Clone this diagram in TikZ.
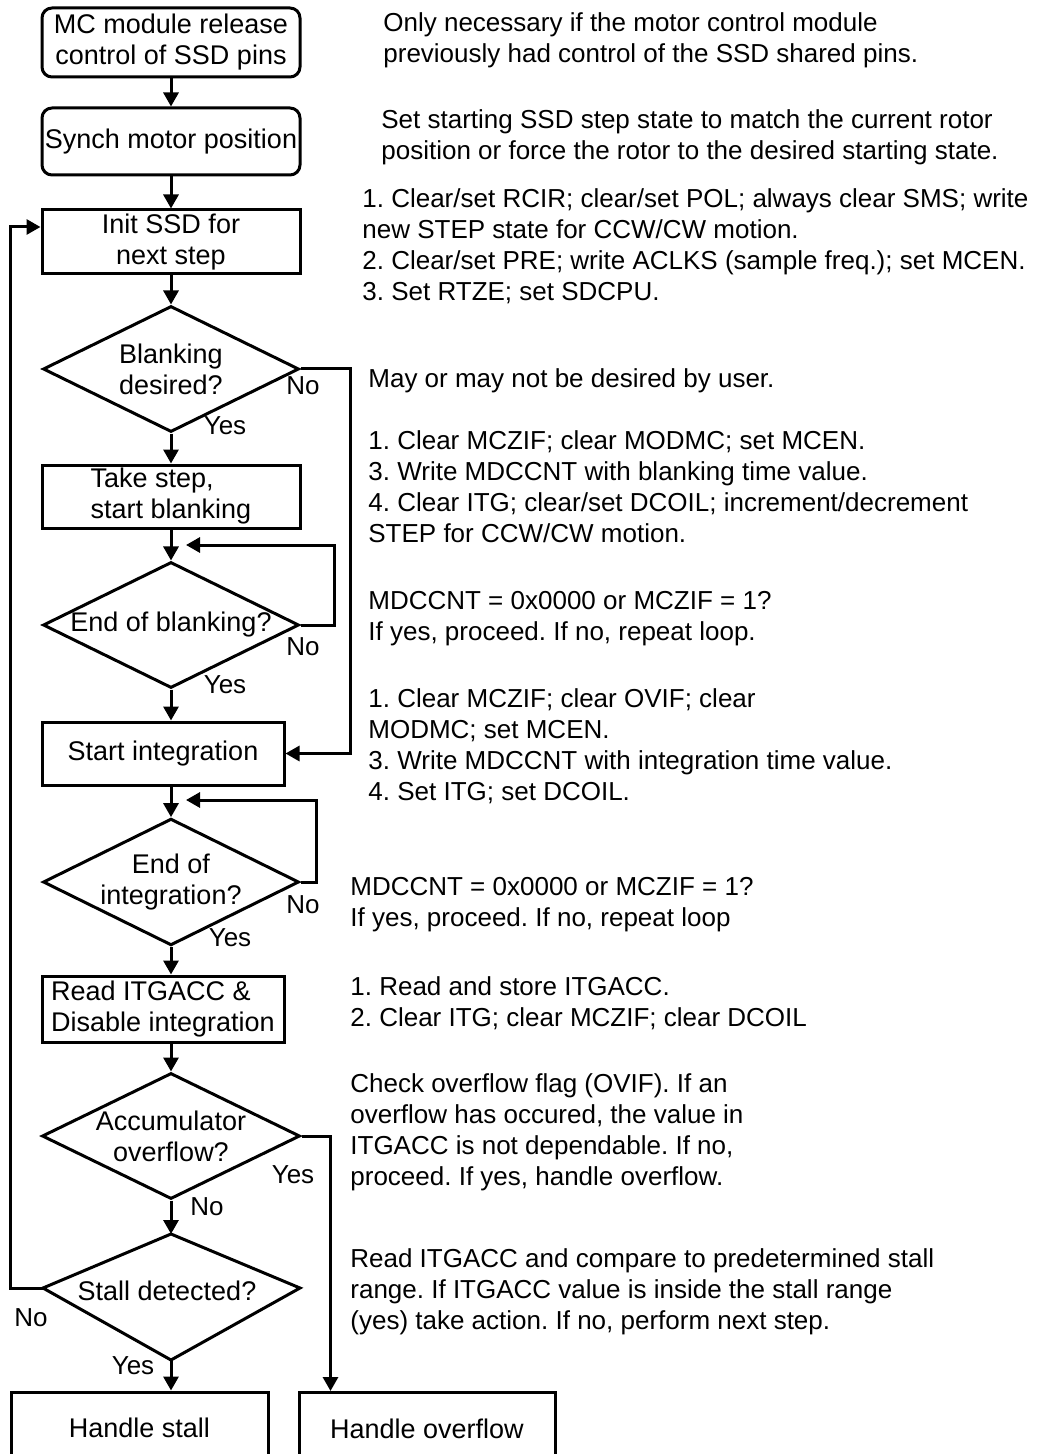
\documentclass[tikz,border=0pt]{standalone}
\usepackage{fontspec}
\setmainfont{Liberation Sans}
\usetikzlibrary{shapes.geometric,arrows.meta}
\frenchspacing

\begin{document}
\begin{tikzpicture}[x=0.5pt,y=-0.5pt,font=\fontsize{13}{15.5}\selectfont]
  \tikzset{flowbox/.style={draw=black,line width=1.5pt,inner sep=0pt,minimum width=129pt,align=center,font=\fontsize{13.5}{15.5}\selectfont}}
  \tikzset{flowround/.style={flowbox,rounded corners=5pt}}
  \tikzset{flowdec/.style={diamond,aspect=2,draw=black,line width=1.5pt,inner sep=0pt,minimum width=128pt,minimum height=63pt,align=center,font=\fontsize{13.5}{15.5}\selectfont}}
  \tikzset{flowedge/.style={draw=black,line width=1.5pt}}
  \tikzset{flowarrow/.style={flowedge,-{Triangle[length=7pt,width=7.5pt]}}}
  \tikzset{flowlabel/.style={inner sep=0pt}}
  \tikzset{sidenote/.style={anchor=north west,align=left,inner sep=0pt}}

  \clip (0,0) rectangle (1039,1454);

  \node[flowround,minimum height=34.5pt] (release) at (171,42.5) {MC module release\\control of SSD pins};
  \node[flowround,minimum height=33.5pt] (synch)   at (171,141.5) {Synch motor position};
  \node[flowbox,minimum height=32pt]     (init)    at (171,242) {Init SSD for\\next step};
  \node[flowdec]                         (blank)   at (171,369) {Blanking\\desired?};
  \node[flowbox,minimum height=31.5pt,align=left] (take) at (171,496.5) {Take step,\\start blanking};
  \node[flowdec]                         (endblank) at (171,625) {End of blanking?};
  \node[flowbox,minimum width=121pt,minimum height=31.5pt] (startint) at (163,753.5) {Start integration};
  \node[flowdec]                         (endint)  at (171,882) {End of\\integration?};
  \node[flowbox,minimum width=121pt,minimum height=33pt,align=left] (readacc) at (163,1009) {Read ITGACC \&\\Disable integration};
  \node[flowdec,minimum width=129pt]     (accovf)  at (171,1136) {Accumulator\\overflow?};

  \coordinate (stallT) at (171,1234);
  \coordinate (stallL) at (43,1288);
  \coordinate (stallR) at (300,1288);
  \coordinate (stallB) at (171,1360);
  \draw[flowedge] (stallT) -- (stallR) -- (stallB) -- (stallL) -- cycle;
  \node[flowlabel,font=\fontsize{13.5}{15.5}\selectfont] (stall) at (167,1291) {Stall detected?};

  \node[flowbox,minimum width=128.5pt,minimum height=36pt] (hstall) at (139.5,1428) {Handle stall};
  \node[flowbox,minimum width=128pt,minimum height=36pt]   (hovf)   at (427,1428.5) {Handle overflow};

  \coordinate (blankjoin) at (186,545);
  \coordinate (intjoin)   at (186,800);

  \draw[flowarrow] (release) -- (synch);
  \draw[flowarrow] (synch) -- (init);
  \draw[flowarrow] (init) -- (blank);
  \draw[flowarrow] (blank) -- (take);
  \draw[flowarrow] (take) -- (endblank);
  \draw[flowarrow] (endblank.south) -- (endblank.south |- startint.north);
  \draw[flowarrow] (endint.north |- startint.south) -- (endint.north);
  \draw[flowarrow] (endint.south) -- (endint.south |- readacc.north);
  \draw[flowarrow] (accovf.north |- readacc.south) -- (accovf.north);
  \draw[flowarrow] (accovf.south) -- (stallT);
  \draw[flowarrow] (stallB) -- (stallB |- hstall.north);

  \draw[flowarrow] (blank.east) -- ++(50,0) |- (startint.east);
  \draw[flowarrow] (endblank.east) -- ++(34,0) |- (blankjoin);
  \draw[flowarrow] (endint.east) -- ++(16,0) |- (intjoin);
  \draw[flowarrow] (accovf.east) -| ([xshift=16.5pt]hovf.north west);
  \draw[flowarrow] (stallL) -- ++(-33,0) |- ([yshift=7.5pt]init.west);

  \node[flowlabel] (blankno)     at (303,386)  {No};
  \node[flowlabel] (blankyes)    at (225,426)  {Yes};
  \node[flowlabel] (endblankno)  at (303,647)  {No};
  \node[flowlabel] (endblankyes) at (225,685)  {Yes};
  \node[flowlabel] (endintno)    at (303,905)  {No};
  \node[flowlabel] (endintyes)   at (230,938)  {Yes};
  \node[flowlabel] (accovfyes)   at (293,1175) {Yes};
  \node[flowlabel] (accovfno)    at (207,1207) {No};
  \node[flowlabel] (stallno)     at (31,1318)  {No};
  \node[flowlabel] (stallyes)    at (133,1366) {Yes};

  \node[sidenote] (noterelease) at (383,12) {Only necessary if the motor control module\\previously had control of the SSD shared pins.};
  \node[sidenote] (notesynch) at (381,109) {Set starting SSD step state to match the current rotor\\position or force the rotor to the desired starting state.};
  \node[sidenote] (noteinit) at (362,188) {1. Clear/set RCIR; clear/set POL; always clear SMS; write\\new STEP state for CCW/CW motion.\\2. Clear/set PRE; write ACLKS (sample freq.); set MCEN.\\3. Set RTZE; set SDCPU.};
  \node[sidenote] (noteblank) at (368,368) {May or may not be desired by user.};
  \node[sidenote] (notetake) at (368,430) {1. Clear MCZIF; clear MODMC; set MCEN.\\3. Write MDCCNT with blanking time value.\\4. Clear ITG; clear/set DCOIL; increment/decrement\\STEP for CCW/CW motion.};
  \node[sidenote] (noteendblank) at (368,591) {MDCCNT = 0x0000 or MCZIF = 1?\\If yes, proceed. If no, repeat loop.};
  \node[sidenote] (notestartint) at (368,688) {1. Clear MCZIF; clear OVIF; clear\\MODMC; set MCEN.\\3. Write MDCCNT with integration time value.\\4. Set ITG; set DCOIL.};
  \node[sidenote] (noteendint) at (350,877) {MDCCNT = 0x0000 or MCZIF = 1?\\If yes, proceed. If no, repeat loop};
  \node[sidenote] (notereadacc) at (350,976) {1. Read and store ITGACC.\\2. Clear ITG; clear MCZIF; clear DCOIL};
  \node[sidenote] (noteaccovf) at (350,1073) {Check overflow flag (OVIF). If an\\overflow has occured, the value in\\ITGACC is not dependable. If no,\\proceed. If yes, handle overflow.};
  \node[sidenote] (notestall) at (350,1248) {Read ITGACC and compare to predetermined stall\\range. If ITGACC value is inside the stall range\\(yes) take action. If no, perform next step.};
\end{tikzpicture}
\end{document}
